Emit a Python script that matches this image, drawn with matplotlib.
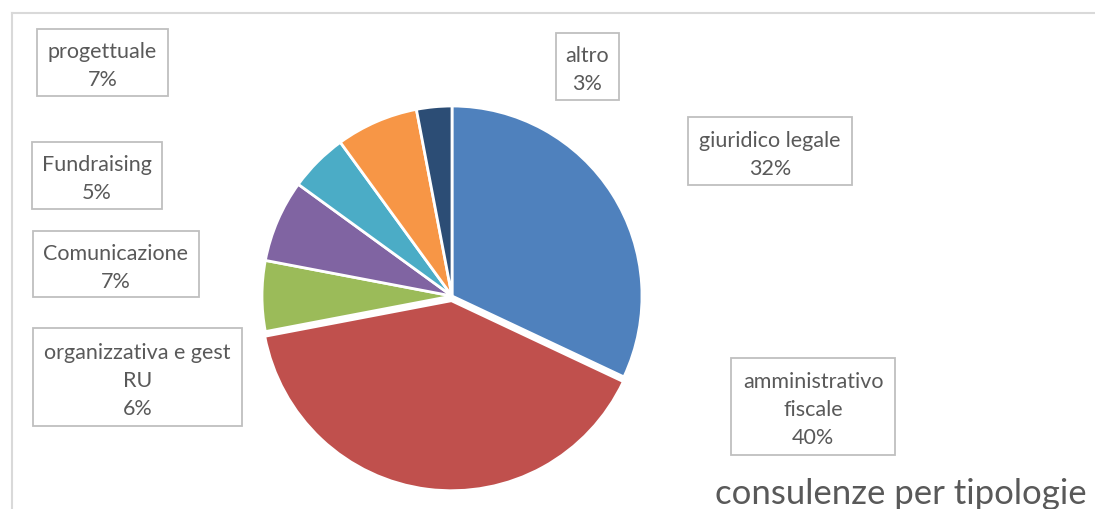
import matplotlib.pyplot as plt
from matplotlib.patches import Rectangle

categories = ['giuridico legale', 'amministrativo\nfiscale', 'organizzativa e gest\nRU',
              'Comunicazione', 'Fundraising', 'progettuale', 'altro']
values = [32, 40, 6, 7, 5, 7, 3]
colors = ['#4F81BD', '#C0504D', '#9BBB59', '#8064A2', '#4BACC6', '#F79646', '#2C4D75']
# label boxes in pixel coords: left, top, right, bottom
boxes = [(688, 118, 852, 186), (731, 359, 895, 456), (33, 329, 242, 427),
         (33, 232, 199, 298), (32, 143, 162, 210), (37, 30, 168, 97), (556, 34, 619, 101)]

W, H = 1095, 510
fig = plt.figure(figsize=(W / 100, H / 100), dpi=100)

# overlay axes in pixel units for boxes, title and frame
ov = fig.add_axes([0, 0, 1, 1])
ov.set_xlim(0, W)
ov.set_ylim(H, 0)
ov.axis('off')

cx, cy, r = 452, 297, 190
half = 200
ax = fig.add_axes([(cx - half) / W, (H - cy - half) / H, 2 * half / W, 2 * half / H])
ax.pie(values, colors=colors, startangle=90, counterclock=False,
       explode=[0, 0.025, 0, 0, 0, 0, 0],
       wedgeprops=dict(edgecolor='white', linewidth=2))
lim = half / r
ax.set_xlim(-lim, lim)
ax.set_ylim(-lim, lim)
ax.set_aspect('equal')
ax.axis('off')

for name, v, (x0, y0, x1, y1) in zip(categories, values, boxes):
    ov.add_patch(Rectangle((x0, y0), x1 - x0, y1 - y0, fc='white', ec='#BFBFBF', lw=1.3))
    ov.text((x0 + x1) / 2, (y0 + y1) / 2 + 3, f'{name}\n{v}%', ha='center', va='center',
            fontsize=15.5, family='Lato', color='#595959', linespacing=1.5)

ov.text(901, 494, 'consulenze per tipologie', ha='center', va='center',
        fontsize=25, family='Lato', color='#595959')

# chart area border (only top and left visible)
ov.plot([12, W], [14, 14], color='#D9D9D9', lw=1.5)
ov.plot([12, 12], [14, H], color='#D9D9D9', lw=1.5)

fig.savefig('out.png', dpi=100)
